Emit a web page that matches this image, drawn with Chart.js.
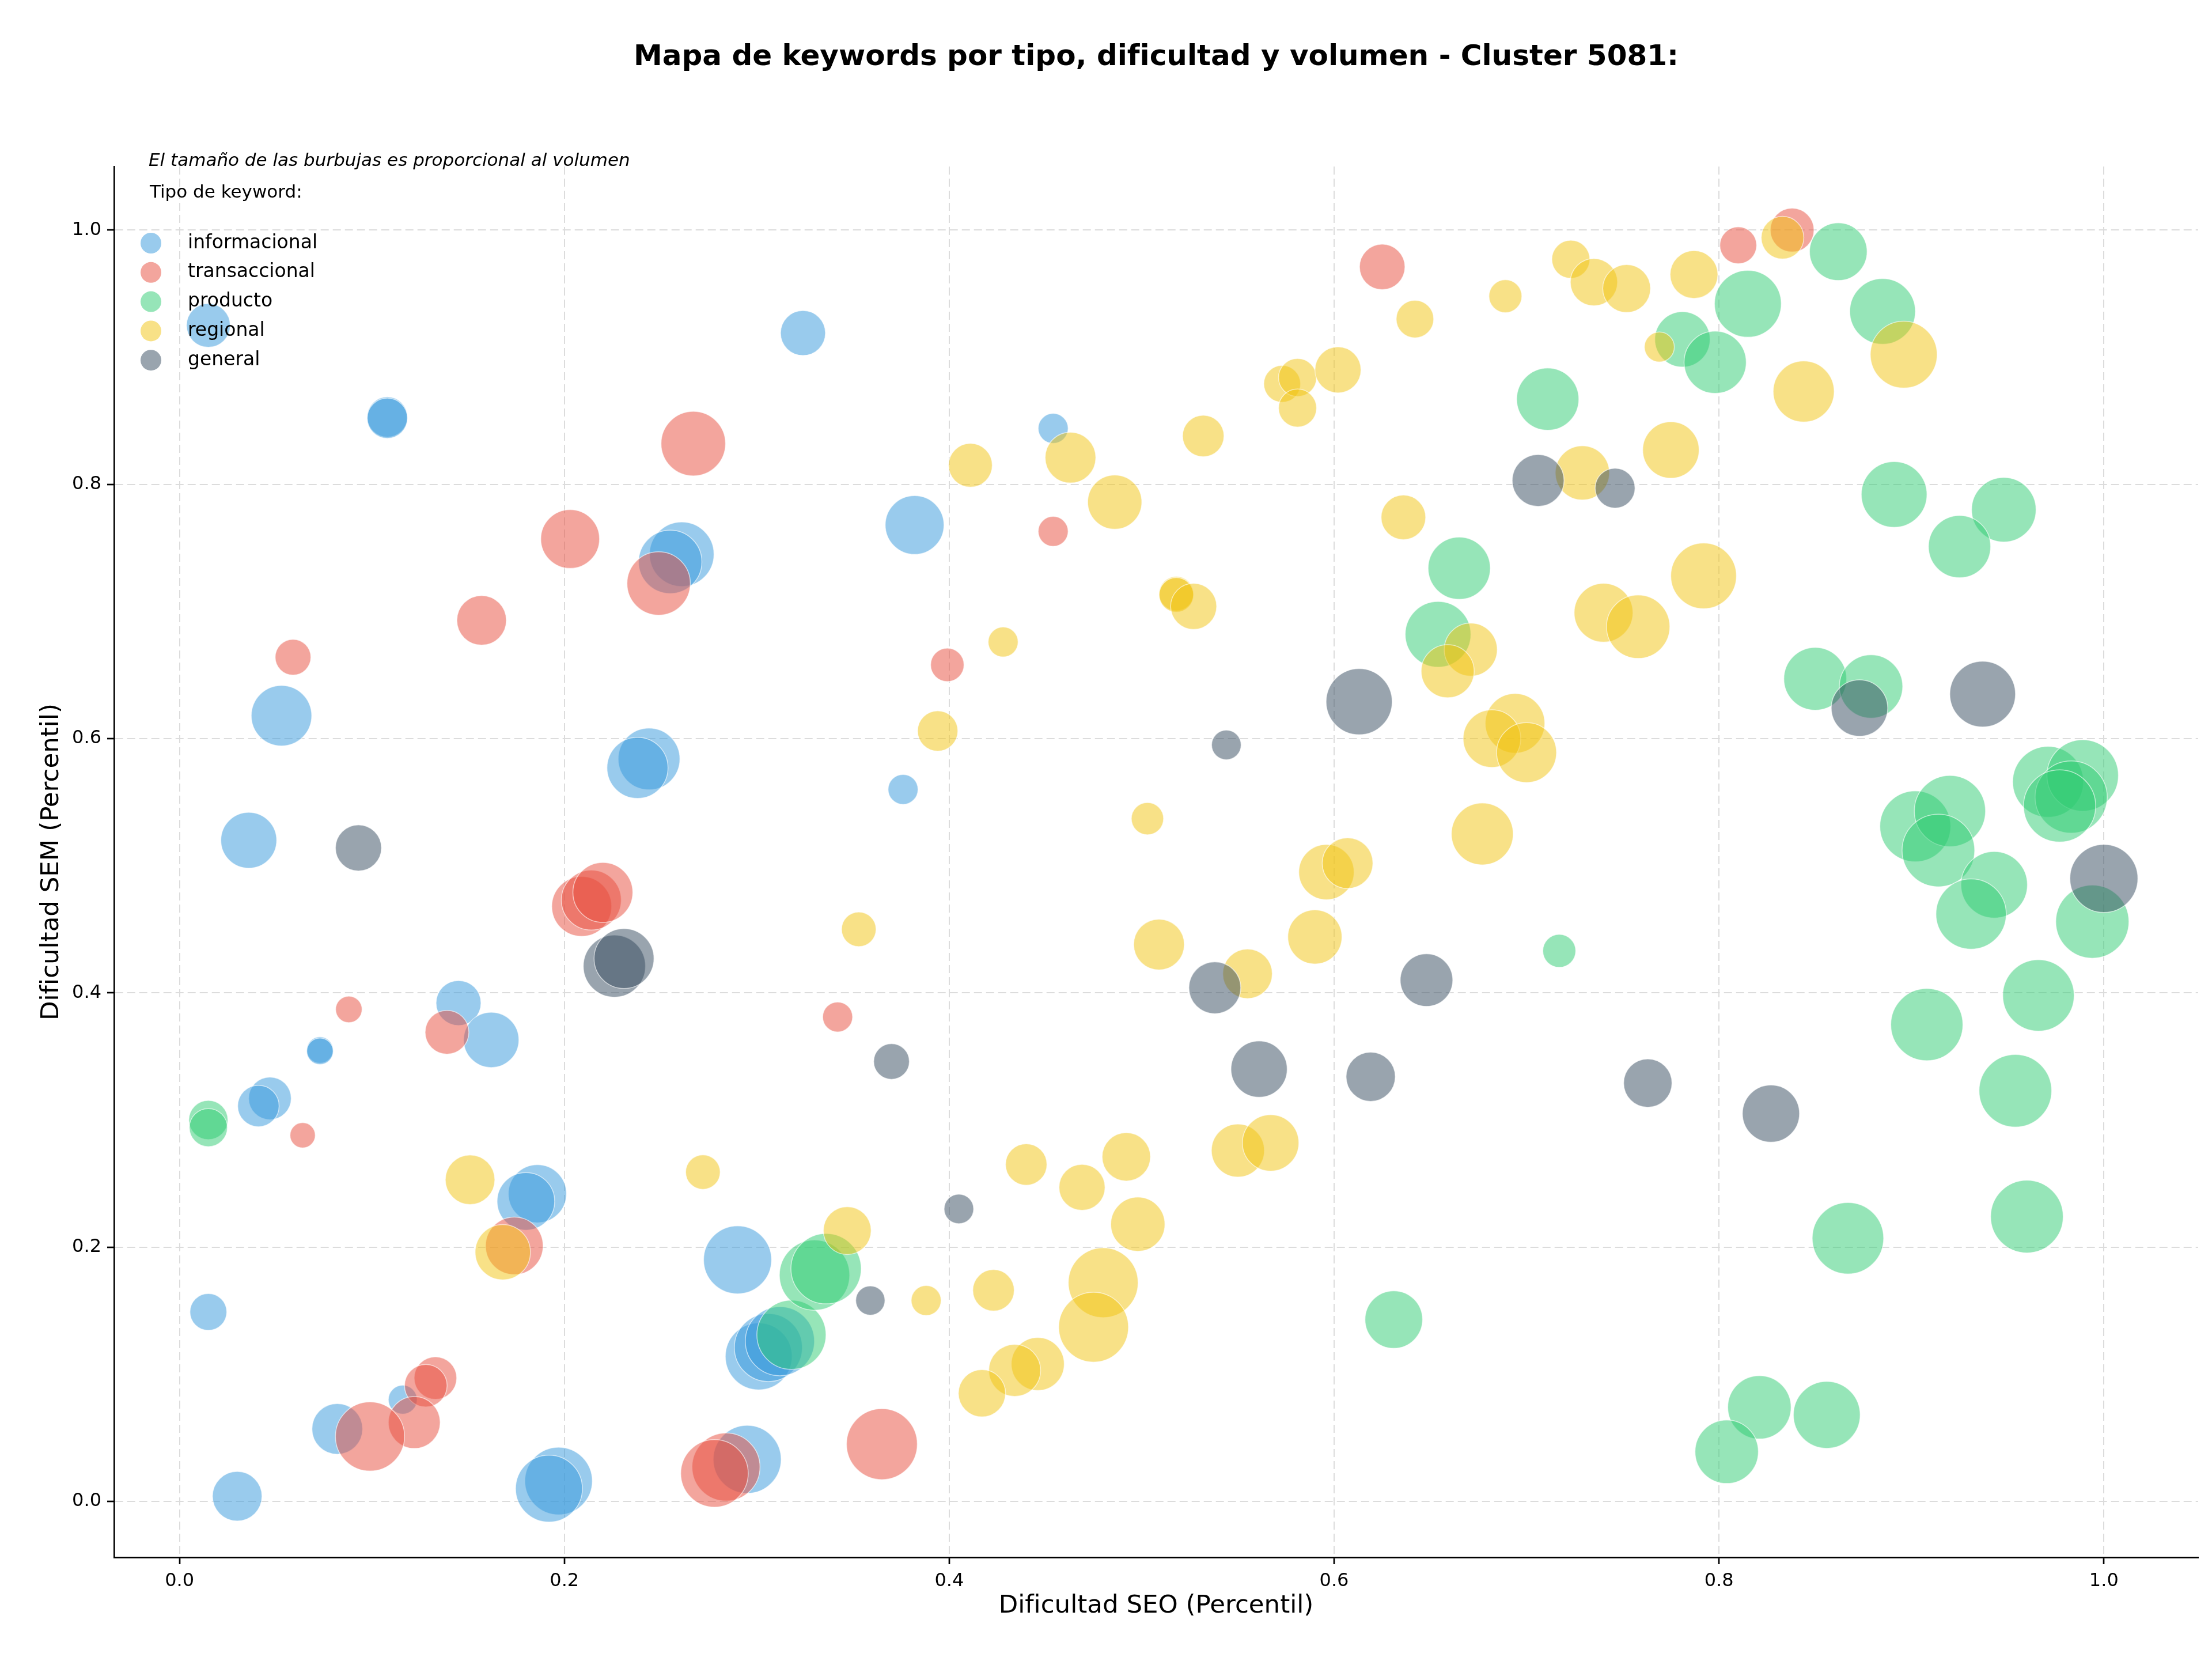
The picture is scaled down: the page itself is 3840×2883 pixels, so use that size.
<!DOCTYPE html>
<html lang="es">
<head>
<meta charset="utf-8">
<title>Mapa de keywords - Cluster 5081</title>
<script src="https://cdn.jsdelivr.net/npm/chart.js@4.4.1/dist/chart.umd.min.js"></script>
<style>
    html, body { margin: 0; padding: 0; background: #ffffff; }
    #chart-wrap { width: 3840px; height: 2883px; position: relative; }
</style>
</head>
<body>
<div id="chart-wrap">
    <canvas id="keyword-chart" width="3840" height="2883"></canvas>
</div>
<script>
// Chart data
const tipos = ['informacional', 'transaccional', 'producto', 'regional', 'general'];
const colores = ['#3498db', '#e74c3c', '#2ecc71', '#f1c40f', '#34495e'];

const xTicks = [0.0, 0.2, 0.4, 0.6, 0.8, 1.0];
const yTicks = [0.0, 0.2, 0.4, 0.6, 0.8, 1.0];

// informacional
const infoSeo = [0.015, 0.108, 0.108, 0.324, 0.454, 0.382, 0.261, 0.255, 0.053, 0.244, 0.238, 0.036, 0.376, 0.145, 0.162, 0.073, 0.073, 0.047, 0.041, 0.186, 0.180, 0.290, 0.015, 0.301, 0.306, 0.312, 0.116, 0.082, 0.295, 0.197, 0.192, 0.030];
const infoSem = [0.925, 0.853, 0.852, 0.919, 0.844, 0.768, 0.745, 0.739, 0.618, 0.584, 0.577, 0.520, 0.560, 0.392, 0.363, 0.355, 0.354, 0.317, 0.311, 0.242, 0.236, 0.190, 0.149, 0.114, 0.121, 0.126, 0.080, 0.057, 0.033, 0.016, 0.010, 0.004];
const infoVol = [4010, 3400, 3400, 4230, 1880, 7230, 8710, 8400, 7660, 7980, 7800, 6530, 1880, 4230, 6400, 1470, 1470, 3800, 3600, 7080, 6940, 9670, 2840, 9350, 9670, 10000, 1740, 5380, 9670, 9540, 9350, 5140];

// transaccional
const transSeo = [0.267, 0.203, 0.157, 0.059, 0.249, 0.454, 0.399, 0.209, 0.214, 0.220, 0.139, 0.088, 0.064, 0.342, 0.174, 0.133, 0.128, 0.122, 0.099, 0.365, 0.284, 0.278, 0.625, 0.810, 0.838];
const transSem = [0.832, 0.757, 0.693, 0.664, 0.722, 0.763, 0.658, 0.468, 0.473, 0.479, 0.369, 0.387, 0.288, 0.381, 0.201, 0.097, 0.091, 0.062, 0.051, 0.045, 0.027, 0.022, 0.971, 0.988, 1.000];
const transVol = [8710, 7230, 5140, 2670, 8400, 1880, 2340, 7510, 7510, 7510, 4010, 1470, 1340, 1880, 6940, 3800, 3800, 5630, 10000, 10510, 9670, 9540, 4330, 2840, 4010];

// producto
const prodSeo = [0.015, 0.015, 0.318, 0.330, 0.336, 0.711, 0.781, 0.665, 0.654, 0.862, 0.815, 0.885, 0.798, 0.891, 0.948, 0.925, 0.850, 0.879, 0.971, 0.989, 0.983, 0.977, 0.902, 0.920, 0.914, 0.943, 0.931, 0.994, 0.966, 0.908, 0.954, 0.867, 0.960, 0.821, 0.856, 0.804, 0.717, 0.631];
const prodSem = [0.300, 0.294, 0.131, 0.178, 0.183, 0.867, 0.914, 0.734, 0.682, 0.983, 0.942, 0.936, 0.896, 0.792, 0.780, 0.751, 0.647, 0.641, 0.566, 0.571, 0.554, 0.547, 0.531, 0.543, 0.512, 0.485, 0.462, 0.456, 0.398, 0.375, 0.323, 0.207, 0.224, 0.074, 0.068, 0.039, 0.433, 0.143];
const prodVol = [3210, 3030, 10000, 10340, 10340, 8100, 6400, 8100, 9030, 6940, 9350, 9030, 8100, 9030, 8710, 8100, 8250, 8400, 10510, 10680, 10890, 10890, 10510, 10610, 11030, 9250, 10340, 11200, 10680, 10890, 11030, 10680, 11030, 8400, 9350, 8400, 2270, 6940];

// regional
const regSeo = [0.151, 0.168, 0.411, 0.463, 0.486, 0.428, 0.394, 0.503, 0.642, 0.689, 0.723, 0.735, 0.752, 0.769, 0.787, 0.573, 0.581, 0.581, 0.602, 0.532, 0.775, 0.729, 0.636, 0.792, 0.518, 0.518, 0.527, 0.740, 0.758, 0.671, 0.659, 0.694, 0.682, 0.700, 0.677, 0.596, 0.607, 0.833, 0.896, 0.844, 0.509, 0.555, 0.590, 0.550, 0.567, 0.498, 0.353, 0.272, 0.347, 0.388, 0.440, 0.469, 0.492, 0.423, 0.480, 0.475, 0.446, 0.434, 0.417];
const regSem = [0.253, 0.196, 0.815, 0.821, 0.786, 0.676, 0.606, 0.537, 0.930, 0.948, 0.977, 0.959, 0.954, 0.908, 0.965, 0.879, 0.884, 0.860, 0.890, 0.838, 0.827, 0.809, 0.774, 0.728, 0.714, 0.713, 0.704, 0.699, 0.688, 0.670, 0.653, 0.612, 0.600, 0.589, 0.525, 0.495, 0.502, 0.994, 0.902, 0.873, 0.438, 0.415, 0.444, 0.276, 0.282, 0.218, 0.450, 0.259, 0.213, 0.158, 0.265, 0.247, 0.271, 0.166, 0.172, 0.137, 0.108, 0.103, 0.085];
const regVol = [5140, 6400, 4010, 5380, 6140, 1880, 3400, 2180, 2950, 2270, 3030, 4670, 4780, 1880, 4780, 2840, 3030, 3030, 4440, 3600, 6670, 6140, 4160, 9030, 2500, 2500, 4440, 7230, 8400, 5880, 5880, 7430, 6940, 7510, 8010, 6400, 5380, 3800, 9350, 7800, 5380, 5140, 6140, 5880, 6670, 6140, 2500, 2500, 4780, 1880, 3600, 4440, 4900, 3600, 10200, 10200, 5880, 5630, 4670];

// general
const genSeo = [0.093, 0.226, 0.231, 0.706, 0.746, 0.613, 0.544, 0.873, 0.937, 1.000, 0.538, 0.648, 0.561, 0.619, 0.763, 0.827, 0.370, 0.405, 0.359];
const genSem = [0.514, 0.421, 0.427, 0.803, 0.797, 0.629, 0.595, 0.624, 0.635, 0.490, 0.404, 0.410, 0.340, 0.334, 0.329, 0.305, 0.346, 0.230, 0.158];
const genVol = [4440, 8100, 7510, 5630, 3330, 9150, 1830, 6670, 9030, 9670, 5630, 5780, 6620, 5070, 4900, 6830, 2670, 1830, 1790];

const series = [
    [infoSeo, infoSem, infoVol],
    [transSeo, transSem, transVol],
    [prodSeo, prodSem, prodVol],
    [regSeo, regSem, regVol],
    [genSeo, genSem, genVol]
];

const titulo = 'Mapa de keywords por tipo, dificultad y volumen - Cluster 5081:';
const notaTamano = 'El tamaño de las burbujas es proporcional al volumen';
const tituloLeyenda = 'Tipo de keyword:';

class KeywordMap {
    constructor() {
        this.chart = null;
        this.fontFamily = '"DejaVu Sans", "Liberation Sans", sans-serif';
        this.radiusScale = 0.6;   // radius = k * sqrt(volumen)
        this.init();
    }

    init() {
        try {
            this.renderChart();
        } catch (error) {
            console.error('Failed to render keyword map:', error);
        }
    }

    withAlpha(hex, alpha) {
        const n = parseInt(hex.slice(1), 16);
        return `rgba(${(n >> 16) & 255}, ${(n >> 8) & 255}, ${n & 255}, ${alpha})`;
    }

    buildDatasets() {
        return tipos.map((tipo, i) => {
            const [seo, sem, vol] = series[i];
            return {
                label: tipo,
                data: seo.map((x, j) => ({ x: x, y: sem[j], r: this.radiusScale * Math.sqrt(vol[j]) })),
                backgroundColor: this.withAlpha(colores[i], 0.5),
                borderColor: 'rgba(255, 255, 255, 0.6)',
                borderWidth: 1.5,
                // later types are painted on top, as in the original
                order: tipos.length - i
            };
        });
    }

    // title, size note and legend drawn inside the axes
    overlayPlugin() {
        const font = this.fontFamily;
        return {
            id: 'keywordOverlay',
            afterDraw(chart) {
                const ctx = chart.ctx;
                const area = chart.chartArea;
                ctx.save();
                ctx.fillStyle = '#000000';
                ctx.textBaseline = 'middle';

                ctx.font = `bold 50px ${font}`;
                ctx.textAlign = 'center';
                ctx.fillText(titulo, (area.left + area.right) / 2, 100);

                ctx.textAlign = 'left';
                ctx.font = `italic 31px ${font}`;
                ctx.fillText(notaTamano, 258, 280);

                ctx.font = `31px ${font}`;
                ctx.fillText(tituloLeyenda, 260, 335);

                ctx.font = `33px ${font}`;
                tipos.forEach((tipo, i) => {
                    const y = 422 + i * 50.8;
                    ctx.beginPath();
                    ctx.arc(262, y, 18, 0, Math.PI * 2);
                    ctx.fillStyle = chart.data.datasets[i].backgroundColor;
                    ctx.fill();
                    ctx.fillStyle = '#000000';
                    ctx.fillText(tipo, 326, y);
                });
                ctx.restore();
            }
        };
    }

    axisOptions(min, max, ticks, title, titlePadding, fit) {
        return {
            type: 'linear',
            min: min,
            max: max,
            afterBuildTicks: scale => { scale.ticks = ticks.map(v => ({ value: v })); },
            afterFit: fit,
            ticks: {
                callback: v => v.toFixed(1),
                color: '#000000',
                font: { family: this.fontFamily, size: 32 },
                padding: 10
            },
            grid: {
                color: '#dcdcdc',
                lineWidth: 2,
                drawTicks: true,
                tickLength: 12,
                tickColor: '#000000',
                tickWidth: 2.7,
                tickBorderDash: []
            },
            // in v4 border.dash is what dashes the grid lines
            border: { display: true, color: '#000000', width: 2.7, dash: [14, 7] },
            title: {
                display: true,
                text: title,
                color: '#000000',
                font: { family: this.fontFamily, size: 43.5 },
                padding: titlePadding
            }
        };
    }

    renderChart() {
        const canvas = document.getElementById('keyword-chart');
        const ctx = canvas.getContext('2d');

        this.chart = new Chart(ctx, {
            type: 'bubble',
            data: { datasets: this.buildDatasets() },
            options: {
                responsive: false,
                animation: false,
                devicePixelRatio: 1,
                events: [],
                layout: {
                    autoPadding: false,
                    padding: { top: 289, right: 24, bottom: 0, left: 0 }
                },
                plugins: {
                    legend: { display: false },
                    tooltip: { enabled: false },
                    title: { display: false }
                },
                scales: {
                    x: this.axisOptions(-0.034, 1.049, xTicks, 'Dificultad SEO (Percentil)',
                        { top: 0, bottom: 69 }, scale => { scale.height = 180; }),
                    y: this.axisOptions(-0.044, 1.05, yTicks, 'Dificultad SEM (Percentil)',
                        { top: 64, bottom: 0 }, scale => { scale.width = 198; })
                }
            },
            plugins: [this.overlayPlugin()]
        });
    }
}

document.addEventListener('DOMContentLoaded', () => {
    window.keywordMap = new KeywordMap();
});
</script>
</body>
</html>
